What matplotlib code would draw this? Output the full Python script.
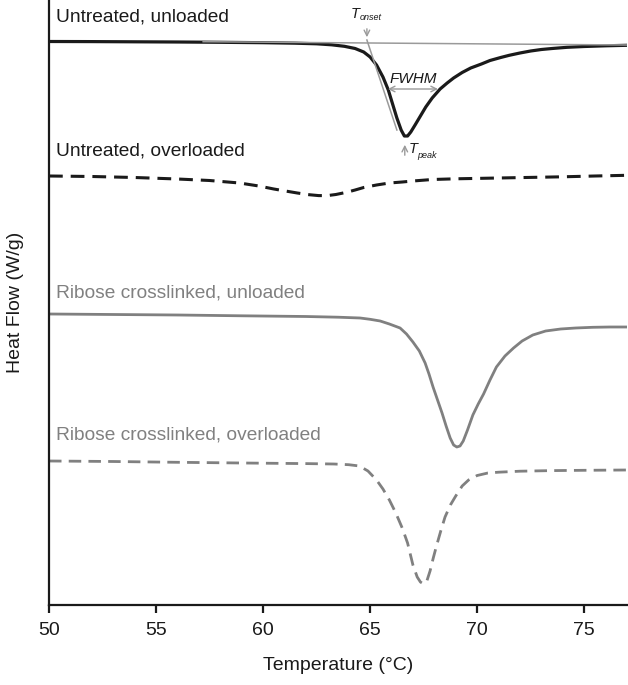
import matplotlib
matplotlib.use("Agg")
import matplotlib.pyplot as plt

plt.rcParams['font.family'] = ['Liberation Sans', 'DejaVu Sans']

# Untreated, unloaded (black solid)
t_uu = [50, 52, 54, 56, 58, 60, 61.5, 62.5, 63.2, 63.8, 64.3, 64.7, 65.0, 65.3,
        65.6, 65.85, 66.05, 66.25, 66.45, 66.6, 66.75, 66.9, 67.1, 67.35, 67.6,
        67.9, 68.27, 68.6, 68.9, 69.3, 69.7, 70.2, 70.6, 71.1, 71.5, 72.0, 72.5,
        73.0, 73.5, 74.2, 75, 76, 77]
hf_uu = [5.635, 5.634, 5.632, 5.63, 5.627, 5.623, 5.618, 5.612, 5.602, 5.587,
         5.565, 5.53, 5.48, 5.40, 5.28, 5.15, 5.01, 4.87, 4.75, 4.69, 4.69, 4.73,
         4.80, 4.89, 4.98, 5.07, 5.16, 5.22, 5.27, 5.325, 5.37, 5.41, 5.445,
         5.475, 5.497, 5.52, 5.54, 5.555, 5.565, 5.577, 5.585, 5.592, 5.597]

# Untreated, overloaded (black dashed)
t_uo = [50, 52, 54, 56, 57.5, 58.9, 59.8, 60.5, 61.1, 61.6, 62.1, 62.6, 63.0,
        63.4, 63.9, 64.3, 64.7, 65.3, 65.9, 66.5, 67.0, 67.9, 69, 70.5, 72, 74,
        75.5, 77]
hf_uo = [4.29, 4.285, 4.275, 4.26, 4.245, 4.22, 4.19, 4.16, 4.138, 4.12, 4.104,
         4.094, 4.094, 4.105, 4.127, 4.15, 4.175, 4.20, 4.22, 4.23, 4.24, 4.255,
         4.262, 4.268, 4.274, 4.282, 4.29, 4.297]

# Ribose crosslinked, unloaded (grey solid)
t_ru = [50, 53, 56, 59, 62, 63.5, 64.53, 65.0, 65.47, 65.9, 66.4, 66.7, 67.0,
        67.3, 67.57, 67.75, 67.94, 68.15, 68.36, 68.55, 68.74, 68.9, 69.05, 69.2,
        69.35, 69.55, 69.8, 70.05, 70.3, 70.6, 70.9, 71.3, 71.7, 72.1, 72.6,
        73.2, 73.9, 74.6, 75.4, 76.2, 77]
hf_ru = [2.91, 2.905, 2.90, 2.892, 2.885, 2.878, 2.87, 2.857, 2.84, 2.81, 2.77,
         2.71, 2.63, 2.54, 2.42, 2.31, 2.18, 2.05, 1.92, 1.79, 1.67, 1.60, 1.58,
         1.59, 1.64, 1.75, 1.90, 2.01, 2.11, 2.25, 2.38, 2.49, 2.57, 2.64, 2.70,
         2.74, 2.76, 2.77, 2.777, 2.78, 2.78]

# Ribose crosslinked, overloaded (grey dashed)
t_ro = [50, 53, 56, 59, 62, 63.3, 64.0, 64.5, 64.9, 65.3, 65.6, 65.9, 66.2,
        66.5, 66.75, 67.0, 67.2, 67.35, 67.5, 67.65, 67.8, 67.95, 68.1, 68.3,
        68.5, 68.75, 69.0, 69.3, 69.6, 70.0, 70.5, 71.0, 72, 73.5, 75, 77]
hf_ro = [1.44, 1.435, 1.427, 1.42, 1.414, 1.41, 1.403, 1.39, 1.34, 1.25, 1.16,
         1.05, 0.92, 0.77, 0.62, 0.40, 0.28, 0.23, 0.21, 0.24, 0.34, 0.47, 0.59,
         0.74, 0.88, 1.00, 1.09, 1.19, 1.25, 1.295, 1.32, 1.328, 1.338, 1.344,
         1.347, 1.35]

labels = ['Untreated, unloaded', 'Untreated, overloaded',
          'Ribose crosslinked, unloaded', 'Ribose crosslinked, overloaded']
label_y = [5.83, 4.50, 3.08, 1.65]

black = '#1a1a1a'
grey = '#808080'
anno = '#9a9a9a'

fig = plt.figure(figsize=(6.28, 6.85), dpi=100)
ax = fig.add_axes([49 / 628, 80 / 685, 578 / 628, 605 / 685])

ax.plot(t_uu, hf_uu, color=black, lw=2.3, solid_joinstyle='round')
ax.plot(t_uo, hf_uo, color=black, lw=2.2, dashes=(4.5, 2.6))
ax.plot(t_ru, hf_ru, color=grey, lw=2.0, solid_joinstyle='round')
ax.plot(t_ro, hf_ro, color=grey, lw=2.0, dashes=(4.5, 2.6))

for lab, y, c in zip(labels, label_y, [black, black, grey, grey]):
    ax.text(50.35, y, lab, color=c, fontsize=13.8, va='baseline', ha='left')

# baseline and onset tangent
ax.plot([57.2, 77], [5.633, 5.60], color=anno, lw=1.1)
ax.plot([64.85, 66.25], [5.65, 4.75], color=anno, lw=1.1)

# T onset
ax.annotate('', xy=(64.85, 5.65), xytext=(64.85, 5.79),
            arrowprops=dict(arrowstyle='->', color=anno, lw=1.0))
ax.text(64.5, 5.87, 'T', fontsize=10.5, style='italic', color=black,
        ha='right', va='baseline')
ax.text(64.5, 5.85, 'onset', fontsize=6.5, style='italic', color=black,
        ha='left', va='baseline')

# FWHM
ax.annotate('', xy=(65.7, 5.16), xytext=(68.3, 5.16),
            arrowprops=dict(arrowstyle='<->', color=anno, lw=1.0))
ax.text(67.0, 5.22, 'FWHM', fontsize=11, style='italic', color=black,
        ha='center', va='baseline')

# T peak
ax.annotate('', xy=(66.62, 4.63), xytext=(66.62, 4.47),
            arrowprops=dict(arrowstyle='->', color=anno, lw=1.0))
ax.text(66.82, 4.52, 'T', fontsize=10.5, style='italic', color=black,
        ha='left', va='baseline')
ax.text(67.2, 4.47, 'peak', fontsize=6.5, style='italic', color=black,
        ha='left', va='baseline')

ax.set_xlim(50, 77)
ax.set_ylim(0, 6.05)
ax.set_xticks([50, 55, 60, 65, 70, 75])
ax.set_yticks([])
ax.spines['top'].set_visible(False)
ax.spines['right'].set_visible(False)
for s in ['left', 'bottom']:
    ax.spines[s].set_linewidth(1.6)
    ax.spines[s].set_color(black)
ax.tick_params(axis='x', length=6, width=1.6, color=black, labelsize=14,
               labelcolor=black, pad=6)
ax.set_xlabel('Temperature (°C)', fontsize=14, color=black, labelpad=13)
ax.set_ylabel('Heat Flow (W/g)', fontsize=14, color=black, labelpad=18)

fig.savefig('out.png', dpi=100)
